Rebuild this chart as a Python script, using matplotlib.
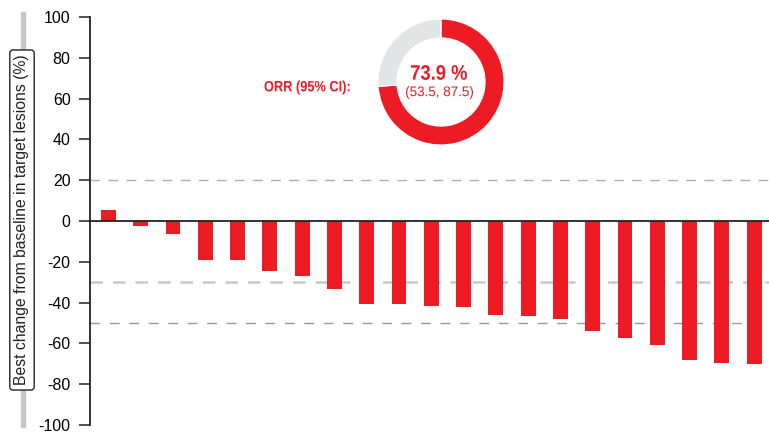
import matplotlib
matplotlib.use('Agg')
import matplotlib.pyplot as plt
from matplotlib.patches import Rectangle, PathPatch
from matplotlib.textpath import TextPath
from matplotlib.font_manager import FontProperties
from matplotlib.transforms import Affine2D

RED = '#ED1C24'
plt.rcParams['font.family'] = ['Liberation Sans', 'DejaVu Sans']

# best % change per patient, sorted
best_change = [5.3, -2.4, -6.6, -19.0, -19.0, -24.7, -27.1, -33.5, -40.6, -40.6,
               -41.6, -42.2, -45.9, -46.4, -47.9, -54.1, -57.5, -60.7, -67.9,
               -69.5, -70.0]
y_ticks = [100, 80, 60, 40, 20, 0, -20, -40, -60, -80, -100]
orr_value = 73.9
orr_ci = (53.5, 87.5)

W, H = 769, 432
fig = plt.figure(figsize=(W / 100, H / 100), dpi=100)
ax = fig.add_axes([90 / W, 1 - 425 / H, 679 / W, 408 / H])

x = list(range(len(best_change)))
ax.bar(x, best_change, width=0.46, color=RED, zorder=2)

# reference lines
ax.axhline(20, color='#b0b0b0', lw=1.0, dashes=(7, 6), zorder=1)
ax.axhline(-30, color='#c8c8c8', lw=1.8, dashes=(5, 4), zorder=1)
ax.axhline(-50, color='#999999', lw=1.0, dashes=(7, 7), zorder=1)
ax.axhline(0, color='#222222', lw=1.3, zorder=3)

ax.set_xlim(-0.573, len(best_change) - 1 + 0.46)
ax.set_ylim(-100, 100)
ax.set_yticks(y_ticks)
ax.set_yticklabels([str(v) for v in y_ticks], fontsize=11.5)
ax.tick_params(axis='y', length=8, width=1.2, color='#333333', pad=6)
ax.set_xticks([])
for side in ['top', 'right', 'bottom']:
    ax.spines[side].set_visible(False)
ax.spines['left'].set_linewidth(1.3)
ax.spines['left'].set_color('#222222')

# y label with grey bar behind it
fig.patches.append(Rectangle((20.5 / W, 1 - 427 / H), 4.5 / W, 415 / H,
                             transform=fig.transFigure, color='#c8c8c8', zorder=0))
fig.text(22 / W, 1 - 220 / H, 'Best change from baseline in target lesions (%)',
         rotation=90, ha='center', va='center', fontsize=11.3, color='#222222',
         bbox=dict(boxstyle='round,pad=0.3,rounding_size=0.2', fc='white',
                   ec='#222222', lw=1.0))

# ORR donut
dax = fig.add_axes([378 / W, 1 - 145 / H, 126 / W, 126 / H])
dax.pie([orr_value, 100 - orr_value], colors=[RED, '#e3e4e6'], startangle=90,
        counterclock=False, radius=1.0,
        wedgeprops=dict(width=0.3, edgecolor='white', linewidth=0.8))
dax.set_xlim(-1, 1)
dax.set_ylim(-1, 1)
dax.set_aspect('auto')

# overlay in pixel coordinates for the condensed red texts
tax = fig.add_axes([0, 0, 1, 1])
tax.set_xlim(0, W)
tax.set_ylim(0, H)
tax.axis('off')


def narrow_text(xc, yc, s, size_px, width_px, bold):
    prop = FontProperties(family='Liberation Sans', weight='bold' if bold else 'normal')
    path = TextPath((0, 0), s, size=size_px, prop=prop)
    ext = path.get_extents()
    sx = width_px / ext.width
    tr = (Affine2D().translate(-(ext.x0 + ext.x1) / 2, -(ext.y0 + ext.y1) / 2)
          .scale(sx, 1).translate(xc, H - yc))
    tax.add_patch(PathPatch(tr.transform_path(path), fc=RED, ec='none', lw=0))


narrow_text(307, 87.5, 'ORR (95% CI):', 15, 85, True)
narrow_text(439, 72.5, f'{orr_value} %', 21, 56, True)
narrow_text(439.5, 92.5, f'({orr_ci[0]}, {orr_ci[1]})', 14, 67, False)

fig.savefig('out.png', dpi=100)
